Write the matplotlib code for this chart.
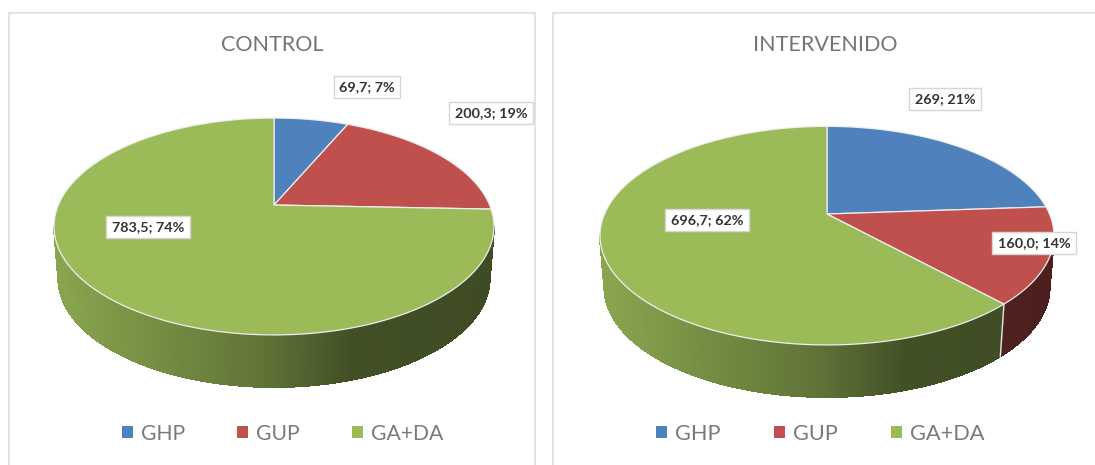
#!/usr/bin/env python
import numpy as np
import matplotlib
matplotlib.use("Agg")
from matplotlib import pyplot as plt
from matplotlib.collections import LineCollection, PolyCollection
from matplotlib.colors import to_rgb
from matplotlib.patches import Patch

plt.rcParams['font.family'] = ['Lato', 'DejaVu Sans']

categories = ['GHP', 'GUP', 'GA+DA']
colors = ['#4f81bd', '#c0504d', '#9bbb59']
control_values = [69.7, 200.3, 783.5]
control_labels = ['69,7; 7%', '200,3; 19%', '783,5; 74%']
interv_values = [269, 160.0, 696.7]
interv_labels = ['269; 21%', '160,0; 14%', '696,7; 62%']

W, H = 1095, 465
TILT = 0.198    # perspective of the pie disc
DEPTH = 52
SHRINK = 0.98   # lower rim is a bit narrower


def disc(theta, cx, cy, sx, sy):
    # theta clockwise from 12 o'clock, in pixels of the picture
    w = 1 + TILT * np.cos(theta)
    return cx + sx * np.sin(theta) / w, cy - sy * np.cos(theta) / w


def shade(col, xfrac):
    f = np.interp(xfrac, [-1, -0.05, 0.35, 1], [0.88, 0.62, 0.43, 0.40])
    return tuple(np.array(to_rgb(col)) * f)


def pie3d(ax, values, cx, cy, sx, sy):
    edges = np.cumsum([0] + list(values)) / sum(values) * 2 * np.pi

    # wall first, only from widest point to widest point
    polys, rim, cols = [], [], []
    for i in range(len(values)):
        th = np.linspace(edges[i], edges[i + 1], int(np.ceil((edges[i + 1] - edges[i]) * 120)) + 1)
        th = th[np.cos(th) < -TILT]
        if len(th) < 2:
            continue
        x, y = disc(th, cx, cy, sx, sy)
        xl = cx + (x - cx) * SHRINK
        yl = y + DEPTH
        for j in range(len(th) - 1):
            polys.append([(x[j], y[j]), (x[j + 1], y[j + 1]), (xl[j + 1], yl[j + 1]), (xl[j], yl[j])])
            rim.append([(xl[j], yl[j]), (xl[j + 1], yl[j + 1])])
            cols.append(shade(colors[i], (x[j] - cx) / sx))
    ax.add_collection(PolyCollection(polys, facecolors=cols, edgecolors=cols, linewidths=0.8, antialiaseds=False))
    ax.add_collection(LineCollection(rim, colors=cols, linewidths=1.0))

    # light line where two slices meet on the front of the wall
    for e in edges[:-1]:
        if np.cos(e) < -0.2:
            x, y = disc(e, cx, cy, sx, sy)
            ax.plot([x, cx + (x - cx) * SHRINK], [y, y + DEPTH], color='#e4e4e4', lw=1.0)

    for i in range(len(values)):
        th = np.linspace(edges[i], edges[i + 1], 300)
        x, y = disc(th, cx, cy, sx, sy)
        ax.fill(np.r_[cx, x], np.r_[cy, y], facecolor=colors[i], edgecolor='#eeeeee', lw=0.9, joinstyle='round')


def panel(x0, x1, title, title_x, values, labels, centre, scale, label_pos, fs, spacing, legend_x):
    ax = fig.add_axes([x0 / W, 0, (x1 - x0) / W, 1 - 13.5 / H])
    ax.set_xlim(x0, x1)
    ax.set_ylim(H, 13.5)
    ax.set_xticks([])
    ax.set_yticks([])
    ax.spines['bottom'].set_visible(False)
    for s in ['top', 'left', 'right']:
        ax.spines[s].set_color('#dedede')
        ax.spines[s].set_linewidth(1.2)

    ax.text(title_x, 45, title, ha='center', va='center', fontsize=15.5, color='#757575')
    pie3d(ax, values, centre[0], centre[1], scale[0], scale[1])

    for lab, (lx, ly) in zip(labels, label_pos):
        ax.text(lx, ly, lab, ha='center', va='center', fontsize=10.4, fontweight='bold', color='#333333',
                bbox=dict(boxstyle='square,pad=0.38', fc='white', ec='#d6d6d6', lw=1.0), zorder=5)

    handles = [Patch(facecolor=c, edgecolor='none', label=n) for c, n in zip(colors, categories)]
    ax.legend(handles=handles, ncol=3, frameon=False, loc='center', bbox_to_anchor=(legend_x, 433.5),
              bbox_transform=ax.transData, fontsize=fs, labelcolor='#7a7a7a', handlelength=0.5,
              handleheight=0.5, handletextpad=0.37, columnspacing=spacing)
    return ax


fig = plt.figure(figsize=(W / 100, H / 100), dpi=100)

panel(9, 535, 'CONTROL', 272, control_values, control_labels, (274, 205), (215.6, 104.2),
      [(367, 87), (491, 113), (148, 227)], 15.2, 2.5, 282.5)
panel(553, 1100, 'INTERVENIDO', 825, interv_values, interv_labels, (827, 214), (222.5, 105),
      [(945, 99), (1034, 243), (707, 220)], 15.7, 2.45, 820.5)

fig.savefig('out.png', dpi=100)
